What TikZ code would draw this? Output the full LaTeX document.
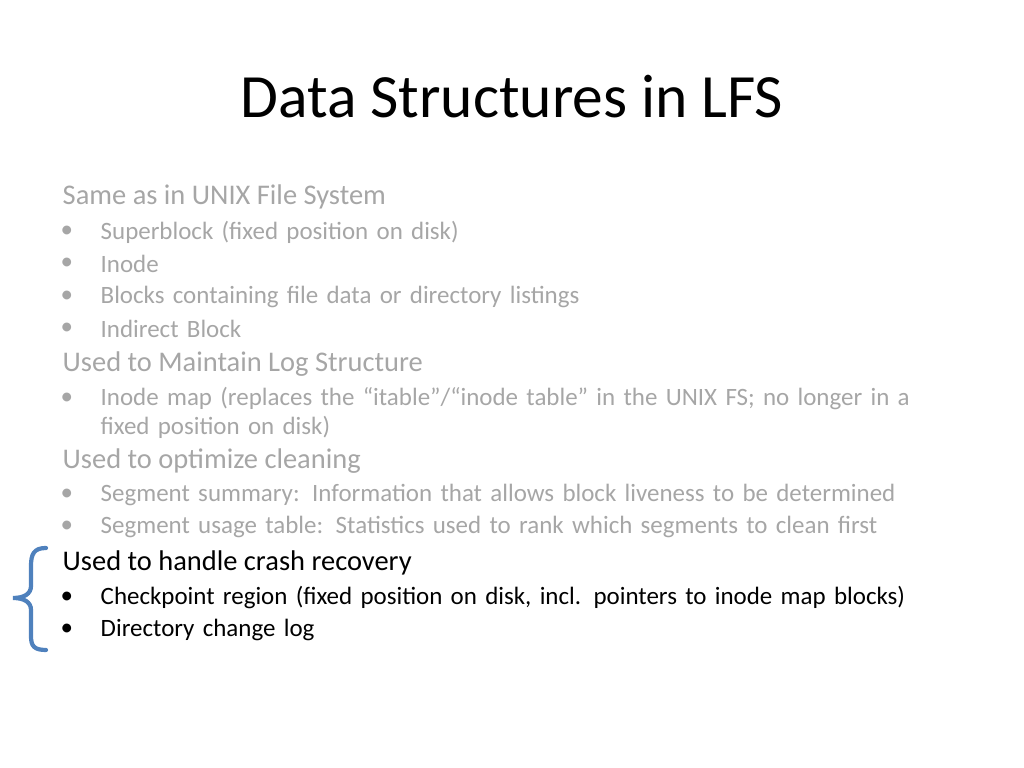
\documentclass[tikz,border=0pt]{standalone}
\usepackage{fontspec}
\setmainfont{Carlito}
\definecolor{faded}{RGB}{166,166,166}
\definecolor{bracketblue}{RGB}{79,129,189}
\tikzset{
  head/.style={anchor=west,inner sep=0pt,font=\fontsize{8.1}{9}\selectfont},
  item/.style={anchor=west,inner sep=0pt,font=\fontsize{7.1}{8}\selectfont,align=left,text width=8.6cm},
  dot/.style={anchor=west,inner sep=0pt,font=\fontsize{7.1}{8}\selectfont}
}
\newcommand{\bul}[4]{% name, y, colour, text
  \node[dot,text=#3] (#1b) at (0.6,#2) {\textbullet};
  \node[item,text=#3] (#1) at (1.0,#2) {#4};}
\begin{document}
\begin{tikzpicture}
    \useasboundingbox (0,0) rectangle (10.24,7.68);
    % title
    \node[inner sep=0pt,font=\fontsize{17.5}{20}\selectfont] (title) at (5.12,6.71) {Data Structures in LFS};

    % unix part
    \node[head,text=faded] (same) at (0.62,5.71) {Same as in UNIX File System};
    \bul{sb}{5.36}{faded}{Superblock (fixed position on disk)}
    \bul{ino}{5.04}{faded}{Inode}
    \bul{blk}{4.71}{faded}{Blocks containing file data or directory listings}
    \bul{ind}{4.39}{faded}{Indirect Block}

    % log structure
    \node[head,text=faded] (log) at (0.62,4.04) {Used to Maintain Log Structure};
    \node[dot,text=faded] (imapb) at (0.6,3.69) {\textbullet};
    \node[item,text=faded,anchor=north west] (imap) at (1.0,3.81) {Inode map (replaces the “itable”/“inode table” in the UNIX FS; no longer in a\\fixed position on disk)};

    % cleaning
    \node[head,text=faded] (clean) at (0.62,3.07) {Used to optimize cleaning};
    \bul{seg}{2.73}{faded}{Segment summary: Information that allows block liveness to be determined}
    \bul{use}{2.41}{faded}{Segment usage table: Statistics used to rank which segments to clean first}

    % crash recovery
    \node[head] (crash) at (0.62,2.05) {Used to handle crash recovery};
    \bul{cp}{1.70}{black}{Checkpoint region (fixed position on disk, incl. pointers to inode map blocks)}
    \bul{dir}{1.38}{black}{Directory change log}

    % brace
    \draw[bracketblue,line width=1.2pt,line cap=round]
      (0.46,2.20) .. controls (0.34,2.20) and (0.31,2.14) .. (0.31,2.02)
      -- (0.31,1.82) .. controls (0.31,1.74) and (0.24,1.70) .. (0.13,1.70)
      .. controls (0.24,1.70) and (0.31,1.66) .. (0.31,1.58)
      -- (0.31,1.32) .. controls (0.31,1.22) and (0.34,1.18) .. (0.46,1.18);
\end{tikzpicture}
\end{document}
